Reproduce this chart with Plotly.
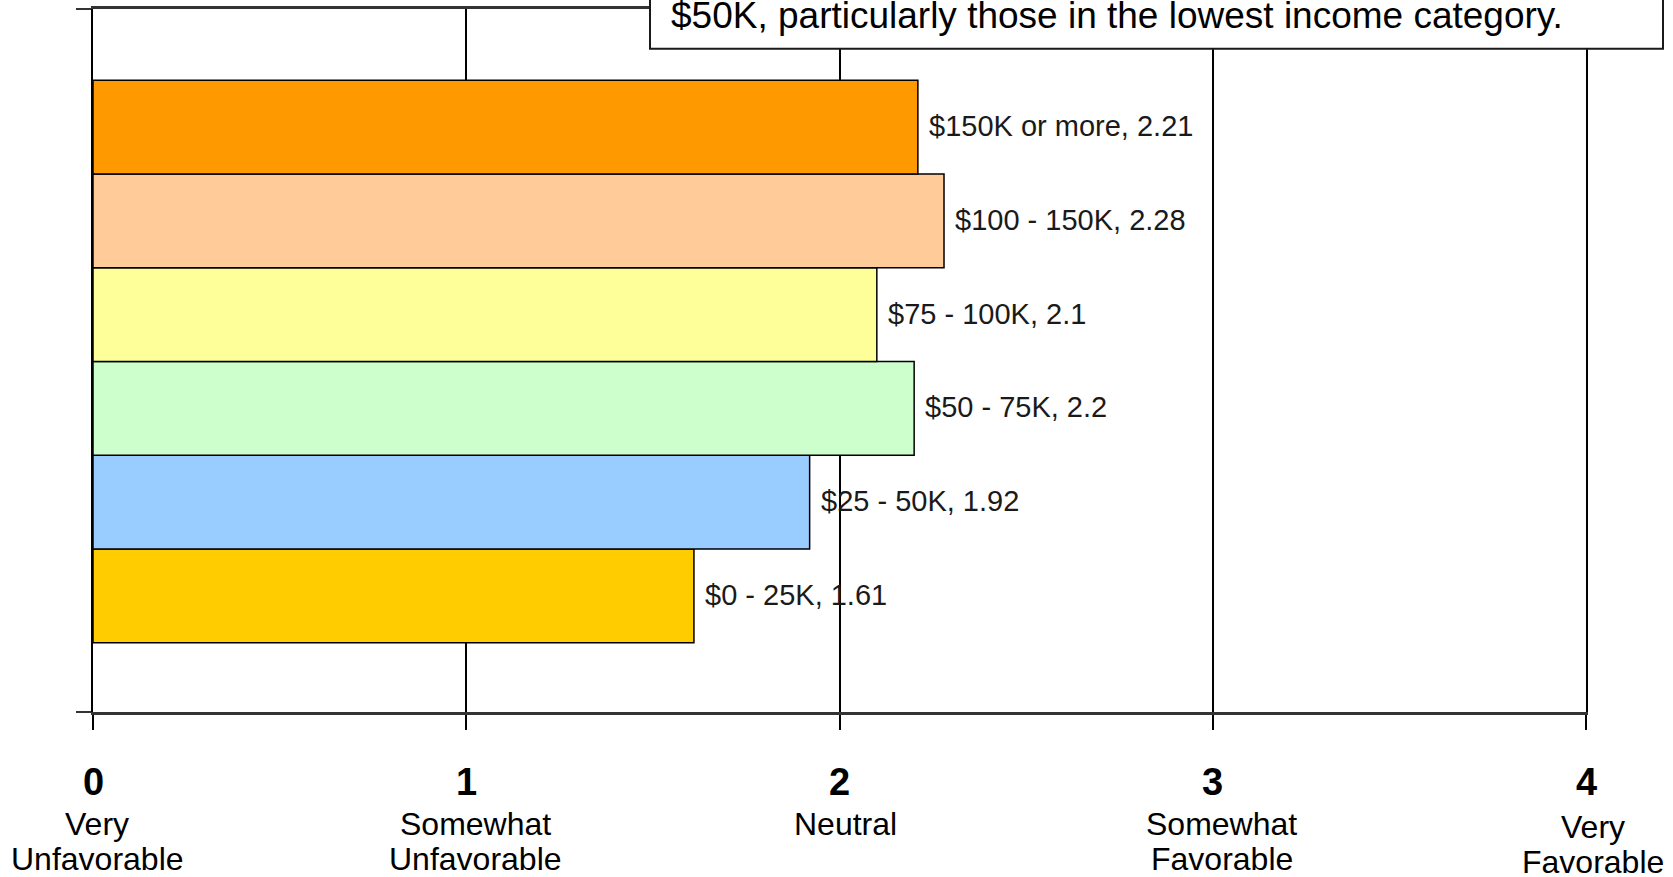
import plotly.graph_objects as go

# ---- data ----
categories = ["$0 - 25K", "$25 - 50K", "$50 - 75K", "$75 - 100K", "$100 - 150K", "$150K or more"]
values = [1.61, 1.92, 2.2, 2.1, 2.28, 2.21]
colors = ["#FFCC00", "#99CCFF", "#CCFFCC", "#FFFF99", "#FFCC99", "#FF9900"]
tick_values = [0, 1, 2, 3, 4]
tick_numbers = ["0", "1", "2", "3", "4"]
tick_descriptions = [["Very", "Unfavorable"], ["Somewhat", "Unfavorable"], ["Neutral"],
                     ["Somewhat", "Favorable"], ["Very", "Favorable"]]
note_text = "$50K, particularly those in the lowest income category."

FONT = "Liberation Sans, Arial, sans-serif"
W, H = 1673, 877
ML, MR, MT, MB = 93, 87, 6, 165

positions = list(range(len(categories)))

fig = go.Figure()
fig.add_trace(go.Bar(
    y=positions, x=values, orientation="h", width=1,
    marker=dict(color=colors, line=dict(color="#000000", width=1.5)),
    hoverinfo="skip", showlegend=False,
))

annotations = []
# bar value labels
for p, c, v in zip(positions, categories, values):
    annotations.append(dict(
        x=v, y=p, xref="x", yref="y", text=f"{c}, {v:g}", showarrow=False,
        xanchor="left", yanchor="middle", xshift=9, yshift=1,
        font=dict(family=FONT, size=29, color="#1a1a1a"),
    ))

# x tick labels (bold number + description lines)
desc_xshift = [4, 9, 6, 9, 7]
desc_extra = [0, 0, 0, 0, 3]
for i, (tv, num, desc) in enumerate(zip(tick_values, tick_numbers, tick_descriptions)):
    annotations.append(dict(
        x=tv, y=0, xref="x", yref="paper", text=f"<b>{num}</b>", showarrow=False,
        xanchor="center", yanchor="middle", yshift=-70,
        font=dict(family=FONT, size=38, color="#000000"),
    ))
    for j, line in enumerate(desc):
        annotations.append(dict(
            x=tv, y=0, xref="x", yref="paper", text=line, showarrow=False,
            xanchor="center", yanchor="middle", xshift=desc_xshift[i],
            yshift=-(112 + 35 * j + desc_extra[i]),
            font=dict(family=FONT, size=32, color="#000000"),
        ))

# note box text (top, partly cut off in original)
annotations.append(dict(
    x=1.543, y=1, xref="x", yref="paper", text=note_text, showarrow=False,
    xanchor="left", yanchor="middle", yshift=-6,
    font=dict(family=FONT, size=37, color="#000000"),
))

plot_w = W - ML - MR
plot_h = H - MT - MB
shapes = [dict(
    type="rect", xref="paper", yref="paper",
    x0=(650 - ML) / plot_w, x1=(1663 - ML) / plot_w,
    y0=1 - (46 - MT) / plot_h, y1=1.2,
    fillcolor="#FFFFFF", line=dict(color="#1a1a1a", width=2), layer="above",
)]

fig.update_layout(
    width=W, height=H,
    margin=dict(l=ML, r=MR, t=MT, b=MB, pad=0),
    paper_bgcolor="#FFFFFF", plot_bgcolor="#FFFFFF",
    font=dict(family=FONT, color="#000000"),
    annotations=annotations, shapes=shapes,
    xaxis=dict(
        range=[0, 4], tickvals=tick_values, showticklabels=False,
        showgrid=True, gridcolor="#000000", gridwidth=1.5, zeroline=False,
        ticks="outside", ticklen=15, tickwidth=1.5, tickcolor="#000000",
        showline=True, linecolor="#333333", linewidth=2.5, mirror=True,
        fixedrange=True,
    ),
    yaxis=dict(
        range=[-1.24, 6.26], tickvals=[-1.24, 6.26], showticklabels=False,
        showgrid=False, zeroline=False,
        ticks="outside", ticklen=15, tickwidth=1.5, tickcolor="#333333",
        showline=True, linecolor="#000000", linewidth=2, mirror=True,
        fixedrange=True,
    ),
)

fig.write_html(
    "out.html",
    config={"displayModeBar": False},
    post_script="document.body.style.margin='0px';document.body.style.overflow='hidden';",
)
